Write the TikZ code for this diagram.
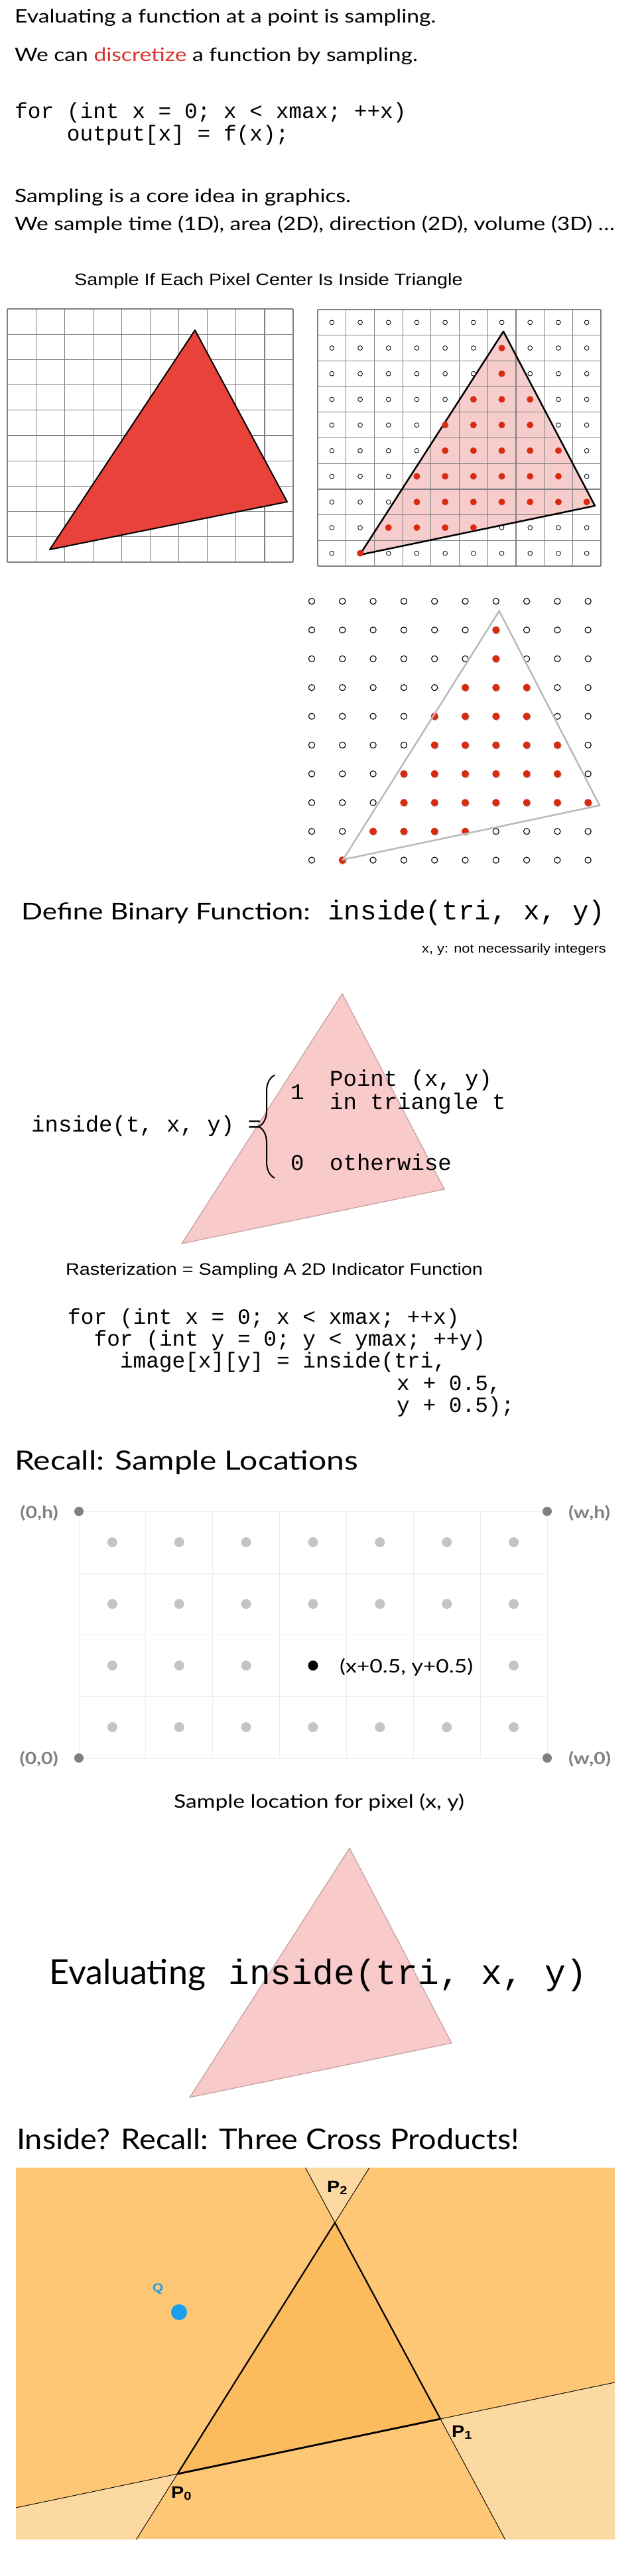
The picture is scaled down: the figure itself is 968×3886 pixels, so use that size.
\documentclass[tikz,border=0pt]{standalone}
\usepackage{fontspec}
\setmainfont{Lato}
\setsansfont{Liberation Sans}[FakeStretch=1.15]
\setmonofont{Liberation Mono}
\newfontfamily\widefont{Lato}[FakeStretch=1.2]
\newfontfamily\titlefont{Lato}[FakeStretch=1.09]
\usetikzlibrary{calc,decorations.pathreplacing}

\definecolor{slidered}{HTML}{D8322A}
\definecolor{trired}{HTML}{E8423A}
\definecolor{dotred}{HTML}{D92B12}
\definecolor{covpink}{HTML}{F6CDCC}
\definecolor{tripink}{HTML}{F8CACA}
\definecolor{triedge}{HTML}{C49E9E}
\definecolor{samplegray}{HTML}{C4C4C4}
\definecolor{cornergray}{HTML}{808080}
\definecolor{faintgray}{HTML}{EDEDED}
\definecolor{planelight}{HTML}{FDD9A2}
\definecolor{planemid}{HTML}{FDC775}
\definecolor{planetri}{HTML}{FCBC5E}
\definecolor{qblue}{HTML}{1A9FEE}

\tikzset{
  slidetext/.style={anchor=base west, inner sep=0pt},
  introtext/.style={anchor=base west, inner sep=0pt, font=\widefont\fontsize{28}{34}\selectfont},
  codetext/.style={anchor=base west, inner sep=0pt, font=\ttfamily\fontsize{32.8}{36}\selectfont},
  arialtext/.style={anchor=base west, inner sep=0pt, font=\sffamily\fontsize{25}{30}\selectfont},
  gridline/.style={draw=gray, line width=1.2pt},
  opendot/.style={draw=black, line width=0.8pt, fill=white},
  cornerlabel/.style={inner sep=0pt, text=cornergray, font=\widefont\bfseries\fontsize{25}{30}\selectfont},
  plabel/.style={anchor=base west, inner sep=0pt, font=\sffamily\bfseries\fontsize{25}{30}\selectfont}
}

\begin{document}
\begin{tikzpicture}[x=1pt, y=-1pt]
    \useasboundingbox (0,0) rectangle (968,3886);
    % Opening lines
    \node[introtext] (intro1) at (22,35) {Evaluating a function at a point is sampling.};
    \node[introtext] (intro2) at (22,93) {We can {\color{slidered}discretize} a function by sampling.};
    \node[codetext] (loop1a) at (22,178) {for (int x = 0; x < xmax; ++x)};
    \node[codetext] (loop1b) at (100.7,212) {output[x] = f(x);};
    \node[introtext] (intro3) at (22,305) {Sampling is a core idea in graphics.};
    \node[introtext] (intro4) at (22,347) {We sample time (1D), area (2D), direction (2D), volume (3D) \dots};
    \node[arialtext] (gridtitle) at (112,430) {Sample If Each Pixel Center Is Inside Triangle};

    % Left grid with solid triangle
    \foreach \i in {0,...,10} {
        \pgfmathsetmacro{\gx}{11 + \i*43.1}
        \pgfmathsetmacro{\gy}{466 + \i*38.2}
        \draw[gridline] (\gx,466) -- (\gx,848);
        \draw[gridline] (11,\gy) -- (442,\gy);
    }
    \filldraw[fill=trired, draw=black, line width=2pt, line join=round] (294,498) -- (433,757) -- (75,829) -- cycle;

    % Right grid with pixel centers
    \filldraw[fill=covpink, draw=none] (759,500) -- (897,763) -- (542.5,837) -- cycle;
    \foreach \i in {0,...,10} {
        \pgfmathsetmacro{\gx}{479 + \i*42.7}
        \pgfmathsetmacro{\gy}{467 + \i*38.7}
        \draw[gridline] (\gx,467) -- (\gx,854);
        \draw[gridline] (479,\gy) -- (906,\gy);
    }
    \draw[black, line width=2.5pt, line join=round] (759,500) -- (897,763) -- (542.5,837) -- cycle;
    \foreach \i in {0,...,9} {
        \foreach \j in {0,...,9} {
            \draw[opendot] (479+42.7*\i+21.35, 467+38.7*\j+19.35) circle[radius=3.4pt];
            \draw[opendot, line width=1.1pt] (470+46.3*\i, 907+43.4*\j) circle[radius=4.6pt];
        }
    }
    % Covered samples: row / first column / last column
    \foreach \r/\a/\b in {1/6/6, 2/6/6, 3/5/7, 4/4/7, 5/4/8, 6/3/8, 7/3/9, 8/2/5, 9/1/1} {
        \foreach \c in {\a,...,\b} {
            \fill[dotred] (479+42.7*\c+21.35, 467+38.7*\r+19.35) circle[radius=5pt];
            \fill[black!25] (470.8+46.3*\c, 908+43.4*\r) circle[radius=5.6pt];
            \fill[dotred] (470+46.3*\c, 907+43.4*\r) circle[radius=5.6pt];
        }
    }
    \draw[gray!55, line width=2.5pt, line join=miter] (752.7,921.7) -- (904,1215) -- (517.3,1296.7) -- cycle;

    % Binary function
    \node[slidetext, font=\widefont\fontsize{35}{40}\selectfont] (deftitle) at (32,1387) {Define Binary Function:};
    \node[slidetext, font=\ttfamily\fontsize{41}{46}\selectfont] (defcode) at (494,1387) {inside(tri, x, y)};
    \node[anchor=base east, inner sep=0pt, font=\sffamily\fontsize{19}{22}\selectfont] (defnote) at (914,1437) {x, y: not necessarily integers};
    \filldraw[fill=tripink, draw=triedge, line width=1.2pt] (516,1499) -- (670,1794) -- (274,1876) -- cycle;
    \node[codetext, font=\ttfamily\fontsize{34}{38}\selectfont] (insidelhs) at (47,1707) {inside(t, x, y) =};
    \coordinate (bracebot) at (414,1777);
    \coordinate (bracetop) at (414,1622);
    \draw[decorate, decoration={brace, amplitude=24pt}, line width=2pt] (bracebot) -- (bracetop);
    \node[codetext, font=\ttfamily\fontsize{34}{38}\selectfont] (caseone) at (438,1658) {1};
    \node[codetext, font=\ttfamily\fontsize{34}{38}\selectfont] (caseonea) at (497,1638) {Point (x, y)};
    \node[codetext, font=\ttfamily\fontsize{34}{38}\selectfont] (caseoneb) at (497,1673) {in triangle t};
    \node[codetext, font=\ttfamily\fontsize{34}{38}\selectfont] (casezero) at (438,1765) {0};
    \node[codetext, font=\ttfamily\fontsize{34}{38}\selectfont] (casezeroa) at (497,1765) {otherwise};

    % Rasterization loop
    \node[arialtext] (rastitle) at (99,1923) {Rasterization = Sampling A 2D Indicator Function};
    \node[codetext] (loop2a) at (102,1997) {for (int x = 0; x < xmax; ++x)};
    \node[codetext] (loop2b) at (141.4,2030) {for (int y = 0; y < ymax; ++y)};
    \node[codetext] (loop2c) at (180.7,2063) {image[x][y] = inside(tri,};
    \node[codetext] (loop2d) at (598,2097) {x + 0.5,};
    \node[codetext] (loop2e) at (598,2130) {y + 0.5);};

    % Sample locations
    \node[slidetext, font=\widefont\fontsize{40}{46}\selectfont] (recalltitle) at (22,2217) {Recall: Sample Locations};
    \foreach \i in {0,...,7} {
        \pgfmathsetmacro{\gx}{119 + \i*100.857}
        \draw[faintgray, line width=1pt] (\gx,2280) -- (\gx,2652);
    }
    \foreach \j in {0,...,4} {
        \pgfmathsetmacro{\gy}{2280 + \j*93}
        \draw[faintgray, line width=1pt] (119,\gy) -- (825,\gy);
    }
    \foreach \i in {0,...,6} {
        \foreach \j in {0,...,3} {
            \pgfmathtruncatemacro{\hideit}{(\j==2)&&(\i>2)&&(\i<6)}
            \ifnum\hideit=0
                \fill[samplegray] (169.4+100.857*\i, 2326.5+93*\j) circle[radius=7.5pt];
            \fi
        }
    }
    \fill[black] (472,2512.5) circle[radius=7.5pt];
    \node[slidetext, font=\widefont\fontsize{28}{32}\selectfont] (centerlabel) at (512,2523) {(x+0.5, y+0.5)};
    \foreach \cx/\cy in {119/2280, 825/2280, 119/2652, 825/2652}
        \fill[cornergray] (\cx,\cy) circle[radius=7pt];
    \node[cornerlabel, anchor=base east] (cornerTL) at (88,2290) {(0,h)};
    \node[cornerlabel, anchor=base west] (cornerTR) at (857,2290) {(w,h)};
    \node[cornerlabel, anchor=base east] (cornerBL) at (88,2661) {(0,0)};
    \node[cornerlabel, anchor=base west] (cornerBR) at (857,2661) {(w,0)};
    \node[anchor=base, inner sep=0pt, font=\widefont\fontsize{28}{32}\selectfont] (samplecap) at (481,2727) {Sample location for pixel (x, y)};

    % Evaluating inside
    \filldraw[fill=tripink, draw=triedge, line width=1.2pt] (527,2788) -- (681,3082) -- (286,3164) -- cycle;
    \node[slidetext, font=\fontsize{52}{60}\selectfont] (evalword) at (74,2993) {Evaluating};
    \node[slidetext, font=\ttfamily\fontsize{53}{60}\selectfont] (evalcode) at (344,2993) {inside(tri, x, y)};

    % Three cross products
    \node[slidetext, font=\titlefont\fontsize{43}{50}\selectfont] (crosstitle) at (25,3242) {Inside? Recall: Three Cross Products!};
    \coordinate (P0) at (267.5,3732);
    \coordinate (P1) at (664,3649);
    \coordinate (P2) at (505,3353);
    \begin{scope}
        \clip (24,3270) rectangle (927,3830);
        \fill[planemid] (24,3270) rectangle (927,3830);
        \fill[planelight] (P2) -- ($(P1)!2.5!(P2)$) -- ($(P0)!2.5!(P2)$) -- cycle;
        \fill[planelight] (P0) -- ($(P1)!2.5!(P0)$) -- ($(P2)!2.5!(P0)$) -- cycle;
        \fill[planelight] (P1) -- ($(P0)!2.5!(P1)$) -- ($(P2)!2.5!(P1)$) -- cycle;
        \fill[planetri] (P0) -- (P1) -- (P2) -- cycle;
        \draw[line width=0.9pt] ($(P0)!-1.5!(P1)$) -- ($(P0)!2.5!(P1)$);
        \draw[line width=0.9pt] ($(P1)!-1.5!(P2)$) -- ($(P1)!2.5!(P2)$);
        \draw[line width=0.9pt] ($(P2)!-1.5!(P0)$) -- ($(P2)!2.5!(P0)$);
    \end{scope}
    \draw[line width=2.2pt, line join=miter] (P1) -- (P2) -- (P0);
    \draw[line width=2.8pt] (P0) -- (P1);
    \node[plabel] (labelP2) at (493,3307) {P\textsubscript{2}};
    \node[plabel] (labelP1) at (681,3676) {P\textsubscript{1}};
    \node[plabel] (labelP0) at (258,3768) {P\textsubscript{0}};
    \node[anchor=base west, inner sep=0pt, text=qblue, font=\sffamily\bfseries\fontsize{18}{20}\selectfont] (qlabel) at (230,3457) {Q};
    \fill[qblue] (270,3488) circle[radius=12pt];
\end{tikzpicture}
\end{document}
